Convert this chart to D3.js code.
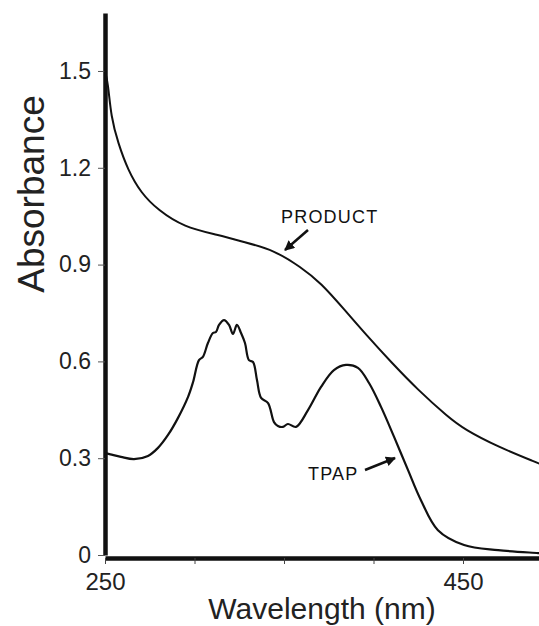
<!DOCTYPE html>
<html>
<head>
<meta charset="utf-8">
<script src="https://cdn.jsdelivr.net/npm/d3@7"></script>
<style>
  body { margin: 0; background: #fff; }
  svg { display: block; font-family: "Liberation Sans", Arial, sans-serif; }
</style>
</head>
<body>
<script>
// spectra (wavelength nm, absorbance)
var productWl = [250, 251.7, 253.4, 257.3, 262.8, 270.1, 279.6, 294.1, 313.1, 327.7, 344.4, 359.5, 370.7, 383.5, 396.9, 409.8, 424.9, 441.6, 450.6, 469.6, 491.9, 494];
var productAbs = [1.50, 1.463, 1.357, 1.277, 1.193, 1.122, 1.069, 1.016, 0.992, 0.970, 0.945, 0.892, 0.843, 0.762, 0.676, 0.598, 0.511, 0.428, 0.390, 0.335, 0.285, 0.280];

var tpapWl = [250, 253, 258.9, 266.2, 274, 279.6, 285.2, 290.8, 296.4, 299.2, 302.5, 304.7, 307.5, 310.3, 312.0, 313.7, 316.5, 319.3, 321.5, 323.7, 326.0, 328.2, 330.4, 332.7, 334.9, 337.2, 341.1, 344.4, 346.6, 349.4, 352.2, 356.7, 363.4, 370.7, 377.9, 384.6, 391.3, 397.5, 404.2, 411.5, 419.3, 426.5, 436.0, 450.6, 469.6, 491.9, 494];
var tpapAbs = [0.316, 0.312, 0.304, 0.297, 0.307, 0.332, 0.372, 0.425, 0.490, 0.536, 0.604, 0.614, 0.657, 0.688, 0.691, 0.713, 0.728, 0.713, 0.685, 0.713, 0.688, 0.657, 0.604, 0.598, 0.542, 0.487, 0.471, 0.412, 0.400, 0.397, 0.406, 0.397, 0.449, 0.521, 0.573, 0.589, 0.580, 0.533, 0.459, 0.366, 0.263, 0.170, 0.077, 0.031, 0.015, 0.006, 0.005];

var yTicks = [0, 0.3, 0.6, 0.9, 1.2, 1.5];
var xTicks = [250, 300, 350, 400, 450];
var xLabelled = [250, 450];

var width = 539, height = 626;

var svg = d3.select('body').append('svg').attr('width', width).attr('height', height);

var x = d3.scaleLinear().domain([250, 500]).range([105, 552.5]);
var y = d3.scaleLinear().domain([0, 1.68]).range([555, 12.9]);

// x axis
var gx = svg.append('g').attr('transform', 'translate(0,558)')
    .call(d3.axisBottom(x).tickValues(xTicks).tickSize(6).tickSizeOuter(0)
        .tickFormat(function(d){ return xLabelled.indexOf(d) >= 0 ? d : ''; }));
gx.select('.domain').attr('stroke', '#111').attr('stroke-width', 4.5);
gx.selectAll('.tick line').attr('stroke', '#444').attr('stroke-width', 1);
gx.selectAll('.tick text').attr('font-size', 24).attr('fill', '#222')
    .attr('font-family', '"Liberation Sans", Arial, sans-serif')
    .attr('y', 32).attr('dy', 0);

// y axis
var gy = svg.append('g').attr('transform', 'translate(105,0)')
    .call(d3.axisLeft(y).tickValues(yTicks).tickSize(7).tickPadding(7).tickSizeOuter(0)
        .tickFormat(function(d){ return d === 0 ? '0' : d3.format('.1f')(d); }));
gy.select('.domain').attr('stroke', '#111').attr('stroke-width', 4.5);
gy.selectAll('.tick line').attr('stroke', '#555').attr('stroke-width', 1);
gy.selectAll('.tick text').attr('font-size', 23).attr('fill', '#222')
    .attr('font-family', '"Liberation Sans", Arial, sans-serif');

// axis titles
svg.append('text')
    .attr('transform', 'translate(44,194) rotate(-90)')
    .attr('text-anchor', 'middle')
    .attr('font-size', 37).attr('fill', '#222')
    .text('Absorbance');

svg.append('text')
    .attr('x', 322).attr('y', 619)
    .attr('text-anchor', 'middle')
    .attr('font-size', 30).attr('fill', '#222')
    .text('Wavelength (nm)');

// curves
var line = d3.line()
    .x(function(d){ return x(d[0]); })
    .y(function(d){ return y(d[1]); });

svg.append('path')
    .datum(d3.zip(productWl, productAbs))
    .attr('d', line.curve(d3.curveBasis))
    .attr('fill', 'none').attr('stroke', '#111').attr('stroke-width', 2);

svg.append('path')
    .datum(d3.zip(tpapWl, tpapAbs))
    .attr('d', line.curve(d3.curveCatmullRom))
    .attr('fill', 'none').attr('stroke', '#111').attr('stroke-width', 2.2);

// labels with arrows
svg.append('defs').append('marker')
    .attr('id', 'head').attr('viewBox', '0 0 10 10')
    .attr('refX', 9).attr('refY', 5)
    .attr('markerWidth', 4).attr('markerHeight', 4)
    .attr('orient', 'auto')
    .append('path').attr('d', 'M0,0 L10,5 L0,10 z').attr('fill', '#111');

svg.append('text')
    .attr('x', 281).attr('y', 223)
    .attr('font-size', 18).attr('letter-spacing', 1.2).attr('fill', '#111')
    .text('PRODUCT');
svg.append('line')
    .attr('x1', 308).attr('y1', 230).attr('x2', 285).attr('y2', 250)
    .attr('stroke', '#111').attr('stroke-width', 2.5)
    .attr('marker-end', 'url(#head)');

svg.append('text')
    .attr('x', 308).attr('y', 480)
    .attr('font-size', 18).attr('letter-spacing', 1.2).attr('fill', '#111')
    .text('TPAP');
svg.append('line')
    .attr('x1', 365).attr('y1', 470).attr('x2', 395).attr('y2', 458)
    .attr('stroke', '#111').attr('stroke-width', 2.5)
    .attr('marker-end', 'url(#head)');
</script>
</body>
</html>
